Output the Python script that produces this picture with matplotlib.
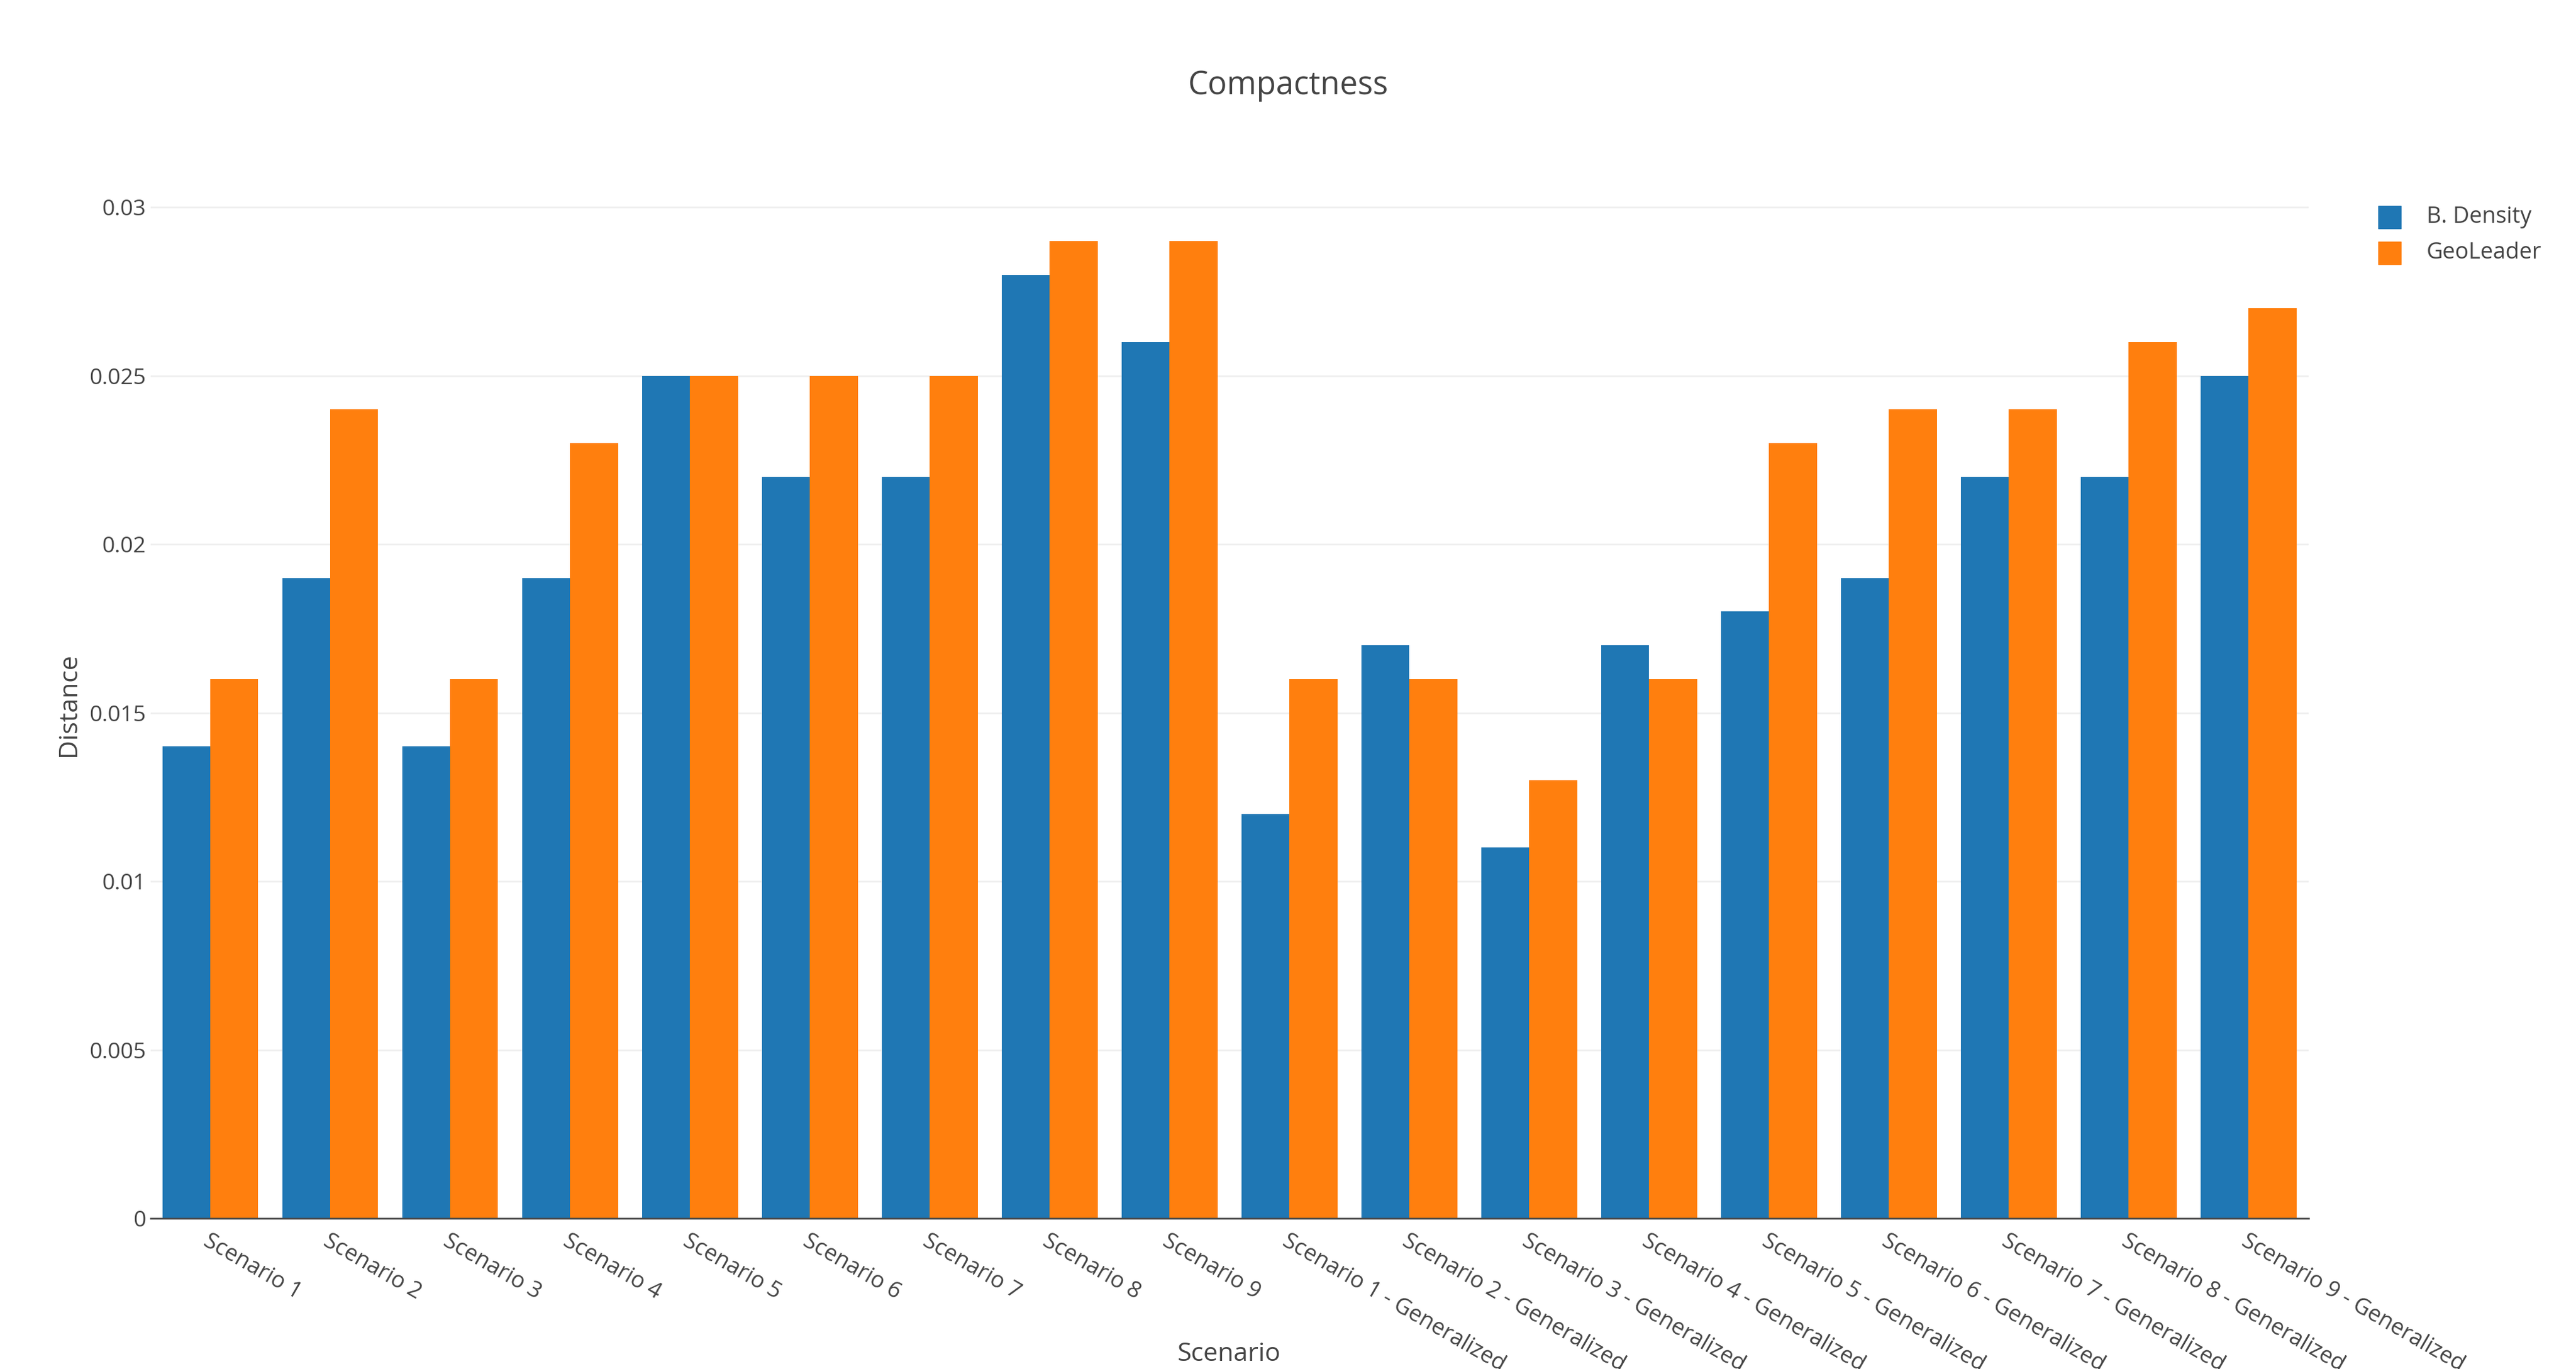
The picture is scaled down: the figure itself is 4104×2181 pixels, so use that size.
import numpy as np
import matplotlib
matplotlib.use("Agg")
import matplotlib.pyplot as plt
from matplotlib.patches import Rectangle
from matplotlib.transforms import ScaledTranslation

scenarios = ["Scenario 1", "Scenario 2", "Scenario 3", "Scenario 4", "Scenario 5",
             "Scenario 6", "Scenario 7", "Scenario 8", "Scenario 9",
             "Scenario 1 - Generalized", "Scenario 2 - Generalized",
             "Scenario 3 - Generalized", "Scenario 4 - Generalized",
             "Scenario 5 - Generalized", "Scenario 6 - Generalized",
             "Scenario 7 - Generalized", "Scenario 8 - Generalized",
             "Scenario 9 - Generalized"]
b_density = [0.014, 0.019, 0.014, 0.019, 0.025, 0.022, 0.022, 0.028, 0.026,
             0.012, 0.017, 0.011, 0.017, 0.018, 0.019, 0.022, 0.022, 0.025]
geoleader = [0.016, 0.024, 0.016, 0.023, 0.025, 0.025, 0.025, 0.029, 0.029,
             0.016, 0.016, 0.013, 0.016, 0.023, 0.024, 0.024, 0.026, 0.027]
yticks = [0, 0.005, 0.01, 0.015, 0.02, 0.025, 0.03]
ytick_labels = ["0", "0.005", "0.01", "0.015", "0.02", "0.025", "0.03"]

plt.rcParams['font.family'] = ['Open Sans', 'DejaVu Sans']
TXT = '#444444'
BLUE = '#1f77b4'
ORANGE = '#ff7f0e'

W, H = 4104, 2181
fig = plt.figure(figsize=(W / 100, H / 100), dpi=100)
ax = fig.add_axes([239.5 / W, 1 - 1941 / H, (3678 - 239.5) / W, (1941 - 306) / H])

x = np.arange(len(scenarios))
w = 0.4
ax.bar(x - w / 2, b_density, w, color=BLUE, label='B. Density', zorder=2)
ax.bar(x + w / 2, geoleader, w, color=ORANGE, label='GeoLeader', zorder=2)

ax.set_xlim(-0.5, len(scenarios) - 0.5)
ax.set_ylim(0, 0.03045)
ax.set_yticks(yticks)
ax.set_yticklabels(ytick_labels)
ax.grid(axis='y', color='#eeeeee', linewidth=1.9, zorder=0)
ax.set_axisbelow(True)

for s in ['top', 'right', 'left']:
    ax.spines[s].set_visible(False)
ax.spines['bottom'].set_color(TXT)
ax.spines['bottom'].set_linewidth(1.9)
ax.spines['bottom'].set_zorder(3)

ax.tick_params(axis='y', length=0, pad=5, labelsize=25.5, labelcolor=TXT)
ax.tick_params(axis='x', length=0, labelsize=25.8, labelcolor=TXT)
ax.set_xticks(x)
ax.set_xticklabels(scenarios, rotation=-30, ha='left', va='top',
                   rotation_mode='anchor')
for lbl in ax.get_xticklabels():
    lbl.set_transform(lbl.get_transform() +
                      ScaledTranslation(0.0, -0.14, fig.dpi_scale_trans))

fig.text(110 / W, 1 - 1123 / H, 'Distance', fontsize=29.5, color=TXT,
         rotation=90, ha='center', va='center')
fig.text(1958 / W, 1 - 2158 / H, 'Scenario', fontsize=29.5, color=TXT,
         ha='center', va='center')
fig.text(0.5, 1 - 136 / H, 'Compactness', fontsize=36.5, color=TXT,
         ha='center', va='center')

# legend
for i, (name, col) in enumerate([('B. Density', BLUE), ('GeoLeader', ORANGE)]):
    yc = 346 + i * 57
    fig.patches.append(Rectangle((3789 / W, 1 - (yc + 18) / H), 36 / W, 36 / H,
                                 transform=fig.transFigure, color=col))
    fig.text(3866 / W, 1 - yc / H, name, fontsize=25.8, color=TXT,
             ha='left', va='center')

fig.savefig('out.png', dpi=100, facecolor='white')
